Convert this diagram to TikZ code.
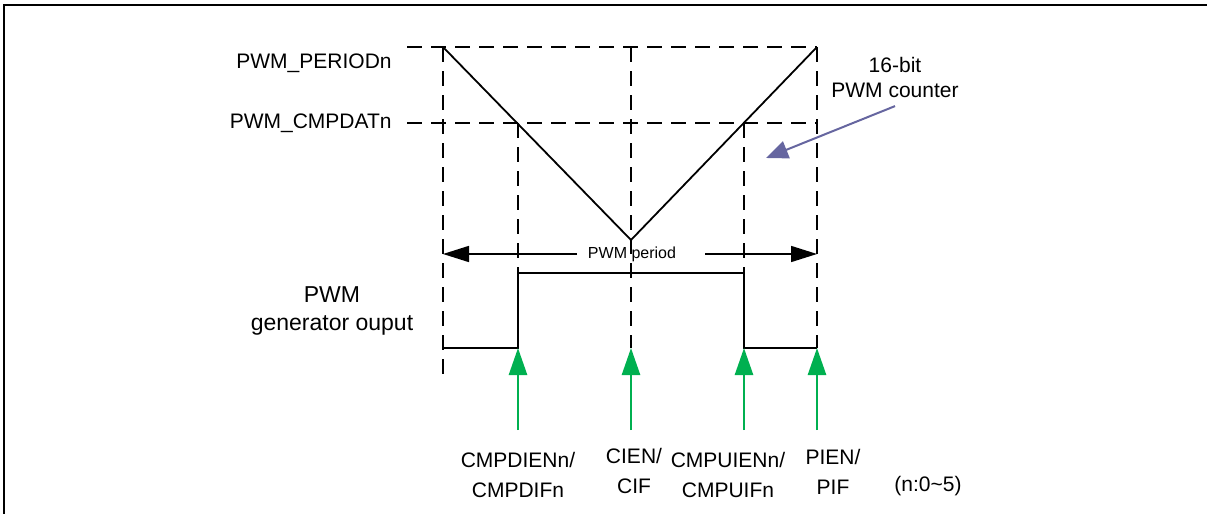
\documentclass[tikz,border=0pt]{standalone}
\usepackage{fontspec}
\setmainfont{Liberation Sans}
\usetikzlibrary{arrows.meta}
\definecolor{grn}{RGB}{0,176,80}
\definecolor{slate}{RGB}{102,102,160}
\begin{document}
\begin{tikzpicture}[x=0.5pt,y=-0.5pt,
  frame/.style={line width=1.3pt, line cap=rect},
  dashln/.style={dash pattern=on 7.5pt off 4.5pt, line width=0.8pt},
  sig/.style={line width=0.9pt},
  lbl/.style={font=\fontsize{10.5}{15}\selectfont, inner sep=0pt, align=center},
  garrow/.style={-{Triangle[length=13.5pt,width=9pt]}, draw=grn, line width=1.3pt},
  barrow/.style={-{Triangle[length=13pt,width=8pt]}, line width=0.8pt},
  parrow/.style={-{Triangle[length=11pt,width=9pt]}, draw=slate, fill=slate, line width=1pt}]
\useasboundingbox (0,0) rectangle (1207,514);
% frame (top and left only)
\draw[frame] (4,514) -- (4,5) -- (1206,5);
% key coordinates
\coordinate (pS) at (407,47);
\coordinate (pL) at (443,47);
\coordinate (pC) at (631,47);
\coordinate (pR) at (817,47);
\coordinate (cS) at (407,123);
\coordinate (cD) at (518,123);
\coordinate (cU) at (744,123);
\coordinate (cE) at (817,123);
\coordinate (bot) at (631,240);
\coordinate (hD) at (518,273);
\coordinate (hU) at (744,273);
\coordinate (l0) at (443,348);
\coordinate (lD) at (518,348);
\coordinate (lC) at (631,348);
\coordinate (lU) at (744,348);
\coordinate (l1) at (817,348);
\coordinate (vLb) at (443,380);
\coordinate (aL) at (443,254);
\coordinate (aR) at (817,254);
\coordinate (gapL) at (577,254);
\coordinate (gapR) at (705,254);
\coordinate (gD) at (518,430);
\coordinate (gC) at (631,430);
\coordinate (gU) at (744,430);
\coordinate (gR) at (817,430);
\coordinate (ctip) at (766,158);
% dashed guides
\draw[dashln] (pS) -- (pR);
\draw[dashln] (cS) -- (cE);
\draw[dashln] (pL) -- (vLb);
\draw[dashln] (cD) -- (hD);
\draw[dashln] (pC) -- (lC);
\draw[dashln] (cU) -- (hU);
\draw[dashln] (pR) -- (l1);
% counter triangle
\draw[sig] (pL) -- (bot) -- (pR);
% output signal
\draw[sig] (l0) -- (lD) -- (hD) -- (hU) -- (lU) -- (l1);
% labels
\node[lbl, anchor=east] (period) at (392,63) {PWM\_PERIODn};
\node[lbl, anchor=east] (cmpdat) at (392,123) {PWM\_CMPDATn};
\node[lbl, font=\fontsize{11.5}{14}\selectfont] (gen) at (332,311) {PWM\\generator ouput};
\node[lbl, font=\fontsize{10.5}{12.5}\selectfont] (counter) at (895,77.5) {16-bit\\PWM counter};
\node[lbl, font=\fontsize{8}{9}\selectfont] (per) at (632,254) {PWM period};
% period arrows
\draw[barrow] (gapL) -- (aL);
\draw[barrow] (gapR) -- (aR);
% counter pointer
\draw[parrow] ([yshift=-4pt]counter.south) -- (ctip);
% green event arrows
\draw[garrow] (gD) -- (lD);
\draw[garrow] (gC) -- (lC);
\draw[garrow] (gU) -- (lU);
\draw[garrow] (gR) -- (l1);
% event labels
\node[lbl] (evD) at (518,475) {CMPDIENn/\\CMPDIFn};
\node[lbl] (evC) at (634,471) {CIEN/\\CIF};
\node[lbl] (evU) at (728,475) {CMPUIENn/\\CMPUIFn};
\node[lbl] (evR) at (833,472) {PIEN/\\PIF};
\node[lbl] (nrange) at (928,486) {(n:0\textasciitilde5)};
\end{tikzpicture}
\end{document}
